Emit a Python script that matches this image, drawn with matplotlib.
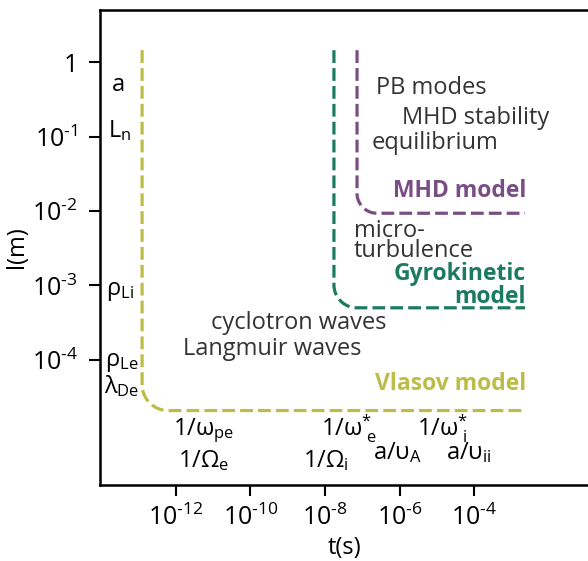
import numpy as np
import matplotlib
matplotlib.use('Agg')
import matplotlib.pyplot as plt

plt.rcParams['font.family'] = ['Open Sans', 'DejaVu Sans']
plt.rcParams['mathtext.fontset'] = 'custom'
plt.rcParams['mathtext.rm'] = 'Open Sans'
plt.rcParams['mathtext.it'] = 'Open Sans'
plt.rcParams['axes.unicode_minus'] = False
plt.rcParams['font.size'] = 17

# model boundaries (log10 values): vertical edge t, horizontal edge l, end t, top l
models = ["Vlasov model", "Gyrokinetic\nmodel", "MHD model"]
edge_t = [-12.91, -7.76, -7.14]
edge_l = [-4.68, -3.30, -2.03]
end_t = [-2.63, -2.63, -2.63]
top_l = [0.16, 0.16, 0.16]
corner_px = [26, 23, 20]
colors = ["#bcbc48", "#1b7a60", "#7a4d85"]

xticks_exp = [-12, -10, -8, -6, -4]
yticks_exp = [0, -1, -2, -3, -4]
xlim_exp = (-14.04, -0.94)
ylim_exp = (-5.68, 0.70)

fig = plt.figure(figsize=(5.88, 5.61), dpi=100)
ax = fig.add_axes([100/588, 76/561, 488/588, 475/561])
ax.set_xscale('log')
ax.set_yscale('log')
ax.set_xlim(10**xlim_exp[0], 10**xlim_exp[1])
ax.set_ylim(10**ylim_exp[0], 10**ylim_exp[1])

# pixels per decade
px = 488 / (xlim_exp[1] - xlim_exp[0])
py = 475 / (ylim_exp[1] - ylim_exp[0])

for xv, yh, xe, yt, r, c in zip(edge_t, edge_l, end_t, top_l, corner_px, colors):
    rx, ry = r / px, r / py
    cx, cy = xv + rx, yh + ry
    th = np.linspace(np.pi, 1.5 * np.pi, 30)
    xs = np.concatenate([[xv], cx + rx * np.cos(th), [xe]])
    ys = np.concatenate([[yt], cy + ry * np.sin(th), [yh]])
    ax.plot(10**xs, 10**ys, color=c, lw=2.3, linestyle=(0, (4, 1.6)))

# model labels
ax.text(10**-2.6, 10**-4.33, models[0], color=colors[0], fontweight='bold',
        ha='right', va='center', fontsize=16.5)
ax.text(10**-2.6, 10**-3.0, models[1], color=colors[1], fontweight='bold',
        ha='right', va='center', fontsize=16.5, linespacing=0.95)
ax.text(10**-2.6, 10**-1.73, models[2], color=colors[2], fontweight='bold',
        ha='right', va='center', fontsize=16.5)

tc = '#333333'
region_text = [
    (-6.62, -0.35, "PB modes"),
    (-5.92, -0.75, "MHD stability"),
    (-6.76, -1.09, "equilibrium"),
    (-11.07, -3.50, "cyclotron waves"),
    (-11.82, -3.85, "Langmuir waves"),
]
for x, y, s in region_text:
    ax.text(10**x, 10**y, s, color=tc, ha='left', va='center')
ax.text(10**-7.23, 10**-2.40, "micro-\nturbulence", color=tc, ha='left', va='center',
        linespacing=0.8)

# scale labels along the axes
side_labels = [
    (-13.55, -0.31, r"a"),
    (-13.5, -0.92, r"$\mathregular{L_{n}}$"),
    (-13.5, -3.07, r"$\mathregular{ρ_{Li}}$"),
    (-13.45, -4.03, r"$\mathregular{ρ_{Le}}$"),
    (-13.45, -4.35, r"$\mathregular{λ_{De}}$"),
]
for x, y, s in side_labels:
    ax.text(10**x, 10**y, s, color='black', ha='center', va='center')

time_labels = [
    (-11.25, -4.95, r"$\mathregular{1/ω_{pe}}$"),
    (-11.25, -5.35, r"$\mathregular{1/Ω_{e}}$"),
    (-7.35, -4.93, r"$\mathregular{1/ω^{*}_{\ e}}$"),
    (-7.98, -5.35, r"$\mathregular{1/Ω_{i}}$"),
    (-6.05, -5.25, r"$\mathregular{a/υ_{A}}$"),
    (-4.85, -4.93, r"$\mathregular{1/ω^{*}_{\ i}}$"),
    (-4.15, -5.25, r"$\mathregular{a/υ_{ii}}$"),
]
for x, y, s in time_labels:
    ax.text(10**x, 10**y, s, color='black', ha='center', va='center')


def pow_label(e):
    # hyphen-style minus as in the original figure
    return r"$\mathregular{10^{\text{-}%d}}$" % abs(e)


ax.set_xticks([10.0**e for e in xticks_exp])
ax.set_xticklabels([pow_label(e) for e in xticks_exp])
ax.set_yticks([10.0**e for e in yticks_exp])
ax.set_yticklabels(["1"] + [pow_label(e) for e in yticks_exp[1:]])
ax.minorticks_off()
ax.tick_params(direction='out', length=8, width=1.5, labelsize=18, pad=6)
ax.tick_params(axis='y', pad=8)
for s in ['left', 'bottom', 'top']:
    ax.spines[s].set_linewidth(1.8)
ax.spines['right'].set_visible(False)

ax.set_xlabel("t(s)", fontsize=17, labelpad=4)
ax.set_ylabel("l(m)", fontsize=17, labelpad=2)

fig.savefig("out.png", dpi=100)
